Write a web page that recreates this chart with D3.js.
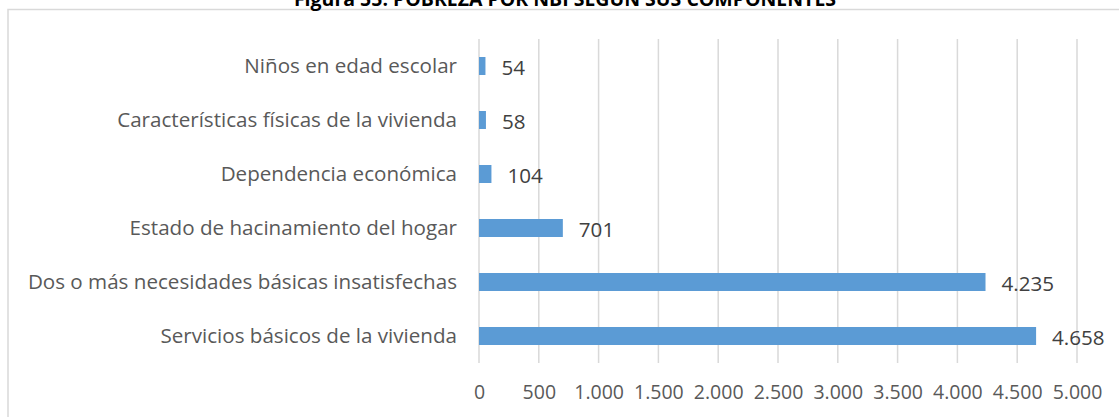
<!DOCTYPE html>
<html>
<head>
<meta charset="utf-8">
<script src="https://cdn.jsdelivr.net/npm/d3@7"></script>
<style>
  html, body { margin: 0; padding: 0; background: #fff; }
  svg { display: block; }
</style>
</head>
<body>
<svg id="chart" width="1119" height="417"></svg>
<script>
// Components of NBI poverty (households)
const categories = [
  "Niños en edad escolar",
  "Características físicas de la vivienda",
  "Dependencia económica",
  "Estado de hacinamiento del hogar",
  "Dos o más necesidades básicas insatisfechas",
  "Servicios básicos de la vivienda"
];
const values = [54, 58, 104, 701, 4235, 4658];
const tickValues = [0, 500, 1000, 1500, 2000, 2500, 3000, 3500, 4000, 4500, 5000];
const title = "Figura 55. POBREZA POR NBI SEGÚN SUS COMPONENTES";

const font = "'Open Sans', 'Noto Sans', sans-serif";
const fmtNum = d => String(d).replace(/\B(?=(\d{3})+(?!\d))/g, ".");

const svg = d3.select("#chart");
const W = 1119, H = 417;
const plot = { left: 479, right: 1077, top: 39, bottom: 363 };

// chart frame
svg.append("rect")
  .attr("x", 8).attr("y", 9.5)
  .attr("width", W + 20).attr("height", H + 20)
  .attr("fill", "#fff")
  .attr("stroke", "#d9d9d9").attr("stroke-width", 1.5);

// title (sits above the frame)
svg.append("text")
  .attr("x", 565).attr("y", 6)
  .attr("text-anchor", "middle")
  .attr("font-family", font).attr("font-weight", "bold")
  .attr("font-size", 19.5).attr("fill", "#000")
  .text(title);

const x = d3.scaleLinear().domain([0, 5000]).range([plot.left, plot.right]);
const y = d3.scaleBand().domain(categories).range([plot.top, plot.bottom]).paddingInner(2/3).paddingOuter(1/3);

// vertical gridlines
svg.append("g")
  .selectAll("line").data(tickValues).join("line")
  .attr("x1", d => x(d)).attr("x2", d => x(d))
  .attr("y1", plot.top).attr("y2", plot.bottom)
  .attr("stroke", "#d9d9d9").attr("stroke-width", 1.5);

// x axis tick labels
const xAxis = d3.axisBottom(x).tickValues(tickValues).tickFormat(fmtNum).tickSize(0).tickPadding(0);
const gx = svg.append("g").attr("transform", `translate(0,${plot.bottom})`).call(xAxis);
gx.select(".domain").remove();
gx.selectAll("text")
  .attr("dy", null).attr("y", 36)
  .attr("font-family", font).attr("font-size", 19.5).attr("fill", "#595959");

// y axis category labels
const yAxis = d3.axisLeft(y).tickSize(0).tickPadding(0);
const gy = svg.append("g").attr("transform", `translate(${plot.left - 22},0)`).call(yAxis);
gy.select(".domain").remove();
gy.selectAll("text")
  .attr("font-family", font).attr("font-size", 20.6).attr("fill", "#595959");

// bars
svg.append("g")
  .selectAll("rect").data(values).join("rect")
  .attr("x", x(0))
  .attr("y", (d, i) => y(categories[i]))
  .attr("width", d => x(d) - x(0))
  .attr("height", y.bandwidth())
  .attr("fill", "#5b9bd5");

// value labels
svg.append("g")
  .selectAll("text").data(values).join("text")
  .attr("x", d => x(d) + 16)
  .attr("y", (d, i) => y(categories[i]) + y.bandwidth() / 2 + 2)
  .attr("dy", "0.35em")
  .attr("font-family", font).attr("font-size", 20.6).attr("fill", "#404040")
  .text(fmtNum);
</script>
</body>
</html>
